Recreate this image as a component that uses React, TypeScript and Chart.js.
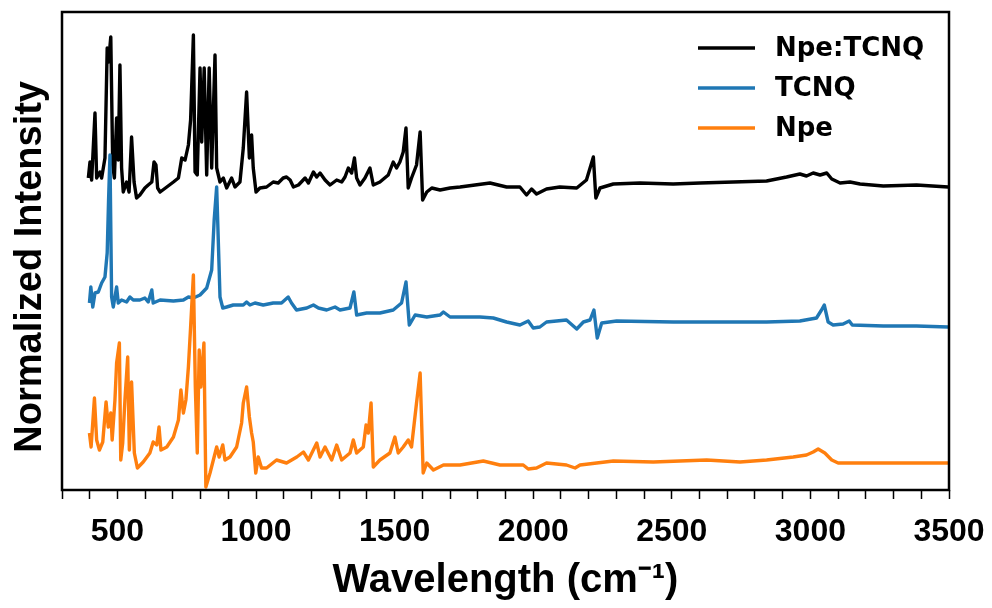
import { useEffect, useRef } from "react";
import { Chart, registerables } from "chart.js";

Chart.register(...registerables);

const seriesLabels = ["Npe:TCNQ", "TCNQ", "Npe"];
const seriesColors = ["#000000", "#1f77b4", "#ff7f0e"];

const npeTcnqWn = [395, 401, 407, 419, 425, 437, 443, 455, 463, 468, 476, 483, 489, 497, 503, 509, 515, 521, 533, 542, 551, 560, 569, 581, 599, 611, 624, 632, 639, 645, 654, 678, 702, 720, 732, 744, 756, 764, 774, 780, 788, 798, 804, 813, 822, 831, 840, 852, 858, 870, 882, 894, 912, 924, 942, 954, 966, 976, 984, 990, 1000, 1014, 1038, 1062, 1080, 1098, 1110, 1123, 1135, 1153, 1177, 1189, 1207, 1219, 1231, 1249, 1267, 1291, 1309, 1321, 1333, 1345, 1355, 1363, 1375, 1393, 1411, 1423, 1447, 1477, 1495, 1507, 1519, 1531, 1541, 1549, 1561, 1579, 1592, 1601, 1616, 1634, 1664, 1700, 1736, 1844, 1904, 1952, 1976, 1994, 2012, 2048, 2096, 2157, 2192, 2217, 2226, 2241, 2289, 2385, 2505, 2602, 2722, 2842, 2914, 2962, 2986, 3010, 3035, 3059, 3077, 3107, 3143, 3179, 3263, 3383, 3497];
const npeTcnqI = [3.12, 3.28, 3.10, 3.77, 3.12, 3.18, 3.12, 3.32, 4.42, 4.28, 4.53, 3.25, 3.12, 3.72, 3.30, 4.25, 3.22, 2.98, 3.08, 2.98, 3.53, 3.08, 2.92, 2.95, 3.02, 3.05, 3.08, 3.28, 3.25, 3.02, 2.98, 3.03, 3.08, 3.12, 3.32, 3.30, 3.45, 3.70, 4.55, 3.18, 3.15, 4.22, 3.48, 4.22, 3.15, 4.22, 3.22, 4.35, 3.22, 3.08, 3.12, 3.02, 3.12, 3.03, 3.08, 3.42, 3.98, 3.32, 3.55, 3.22, 2.98, 3.02, 3.03, 3.08, 3.07, 3.12, 3.13, 3.10, 3.03, 3.05, 3.12, 3.07, 3.18, 3.13, 3.17, 3.10, 3.05, 3.10, 3.08, 3.13, 3.22, 3.17, 3.32, 3.12, 3.05, 3.12, 3.22, 3.05, 3.08, 3.15, 3.28, 3.22, 3.28, 3.38, 3.62, 3.02, 3.12, 3.25, 3.58, 2.90, 2.98, 3.02, 3.00, 3.02, 3.03, 3.07, 3.03, 3.03, 2.95, 3.01, 2.96, 3.01, 3.03, 3.02, 3.10, 3.33, 2.92, 3.02, 3.06, 3.07, 3.06, 3.07, 3.08, 3.09, 3.13, 3.16, 3.14, 3.17, 3.15, 3.17, 3.11, 3.07, 3.08, 3.06, 3.04, 3.05, 3.03];

const tcnqWn = [399, 404, 411, 419, 431, 443, 455, 463, 468, 473, 479, 485, 497, 503, 515, 533, 545, 557, 581, 599, 611, 624, 629, 654, 702, 738, 756, 774, 798, 822, 840, 849, 858, 870, 880, 894, 918, 954, 966, 978, 996, 1026, 1062, 1092, 1116, 1128, 1146, 1183, 1207, 1225, 1255, 1285, 1303, 1339, 1353, 1363, 1399, 1447, 1495, 1525, 1541, 1553, 1574, 1616, 1664, 1676, 1700, 1808, 1856, 1904, 1952, 1982, 2000, 2024, 2048, 2120, 2157, 2181, 2205, 2219, 2231, 2247, 2301, 2505, 2722, 2842, 2962, 3022, 3040, 3050, 3064, 3082, 3118, 3140, 3151, 3263, 3383, 3497];
const tcnqI = [1.87, 2.03, 1.83, 1.97, 1.98, 2.07, 2.13, 2.37, 2.90, 3.35, 1.93, 1.83, 2.03, 1.87, 1.90, 1.88, 1.93, 1.90, 1.90, 1.92, 1.88, 2.00, 1.87, 1.90, 1.89, 1.90, 1.93, 1.92, 1.95, 2.02, 2.20, 2.70, 3.03, 1.93, 1.82, 1.83, 1.85, 1.85, 1.88, 1.85, 1.87, 1.85, 1.87, 1.87, 1.93, 1.87, 1.80, 1.82, 1.85, 1.82, 1.80, 1.83, 1.80, 1.82, 1.98, 1.75, 1.77, 1.77, 1.80, 1.87, 2.08, 1.65, 1.75, 1.73, 1.75, 1.78, 1.73, 1.73, 1.72, 1.68, 1.65, 1.69, 1.62, 1.63, 1.68, 1.70, 1.61, 1.68, 1.70, 1.80, 1.52, 1.67, 1.69, 1.68, 1.68, 1.68, 1.69, 1.72, 1.80, 1.85, 1.68, 1.65, 1.66, 1.69, 1.65, 1.64, 1.64, 1.63];

const npeWn = [399, 405, 417, 425, 435, 447, 459, 467, 476, 481, 491, 497, 507, 512, 519, 527, 537, 543, 551, 561, 572, 593, 617, 629, 642, 650, 657, 678, 702, 720, 729, 738, 747, 756, 764, 774, 781, 788, 795, 801, 812, 819, 834, 846, 858, 867, 880, 888, 906, 930, 948, 954, 966, 976, 984, 990, 999, 1008, 1020, 1038, 1074, 1110, 1147, 1171, 1189, 1219, 1231, 1249, 1273, 1291, 1309, 1339, 1351, 1363, 1387, 1397, 1405, 1415, 1423, 1447, 1483, 1501, 1513, 1531, 1549, 1561, 1579, 1592, 1603, 1616, 1640, 1676, 1736, 1820, 1880, 1964, 1982, 2012, 2048, 2120, 2151, 2169, 2289, 2433, 2626, 2746, 2842, 2938, 2986, 3010, 3028, 3052, 3077, 3100, 3179, 3323, 3497];
const npeI = [0.57, 0.43, 0.92, 0.50, 0.40, 0.48, 0.88, 0.63, 0.77, 0.50, 0.90, 1.27, 1.47, 0.30, 0.47, 0.90, 1.33, 0.40, 1.08, 0.37, 0.22, 0.28, 0.37, 0.48, 0.45, 0.63, 0.40, 0.43, 0.53, 0.70, 1.00, 0.77, 0.90, 1.23, 1.63, 2.15, 1.03, 0.37, 1.40, 1.03, 1.47, 0.03, 0.17, 0.30, 0.43, 0.33, 0.45, 0.30, 0.33, 0.43, 0.67, 0.87, 1.03, 0.73, 0.57, 0.48, 0.17, 0.33, 0.22, 0.22, 0.30, 0.27, 0.33, 0.38, 0.30, 0.47, 0.33, 0.43, 0.30, 0.45, 0.30, 0.37, 0.50, 0.37, 0.43, 0.65, 0.57, 0.87, 0.23, 0.30, 0.37, 0.53, 0.37, 0.43, 0.50, 0.43, 0.87, 1.17, 0.17, 0.27, 0.20, 0.25, 0.25, 0.29, 0.25, 0.25, 0.21, 0.22, 0.27, 0.25, 0.22, 0.25, 0.29, 0.28, 0.30, 0.28, 0.30, 0.33, 0.35, 0.38, 0.41, 0.37, 0.30, 0.27, 0.27, 0.27, 0.27];

const xTickLabels = [500, 1000, 1500, 2000, 2500, 3000, 3500];
const xTitle = "Wavelength (cm\u207B\u00B9)";
const yTitle = "Normalized Intensity\u00A0\u00A0\u00A0";

const toPoints = (wn: number[], vals: number[]) => wn.map((w, i) => ({ x: w, y: vals[i] }));

export default function App() {
  const ref = useRef<HTMLCanvasElement | null>(null);

  useEffect(() => {
    document.body.style.margin = "0";
    const canvas = ref.current;
    if (!canvas) return;

    const framePlugin = {
      id: "frame",
      afterDatasetsDraw(chart: any) {
        const { ctx, chartArea: a } = chart;
        ctx.save();
        ctx.strokeStyle = "#000";
        ctx.lineWidth = 2.5;
        ctx.strokeRect(a.left, a.top, a.right - a.left, a.bottom - a.top);
        ctx.restore();
      },
    };

    const legendPlugin = {
      id: "insideLegend",
      afterDraw(chart: any) {
        const { ctx, chartArea: a } = chart;
        ctx.save();
        chart.data.datasets.forEach((ds: any, i: number) => {
          const y = a.top + 36 + i * 40;
          ctx.strokeStyle = ds.borderColor;
          ctx.lineWidth = 3.5;
          ctx.beginPath();
          ctx.moveTo(a.right - 251, y);
          ctx.lineTo(a.right - 194, y);
          ctx.stroke();
          ctx.fillStyle = "#000";
          ctx.font = 'bold 26px "DejaVu Sans"';
          ctx.textBaseline = "middle";
          ctx.textAlign = "left";
          ctx.fillText(ds.label, a.right - 174, y + 1);
        });
        ctx.restore();
      },
    };

    const series = [
      toPoints(npeTcnqWn, npeTcnqI),
      toPoints(tcnqWn, tcnqI),
      toPoints(npeWn, npeI),
    ];

    const chart = new Chart(canvas, {
      type: "line",
      data: {
        datasets: series.map((pts, i) => ({
          label: seriesLabels[i],
          data: pts,
          borderColor: seriesColors[i],
          backgroundColor: seriesColors[i],
          borderWidth: 3.4,
          pointRadius: 0,
          tension: 0,
          fill: false,
          borderJoinStyle: "round",
          order: 3 - i,
        })),
      },
      options: {
        animation: false,
        responsive: true,
        maintainAspectRatio: false,
        layout: { padding: { top: 12, right: 43, left: 0, bottom: 0 } },
        plugins: {
          legend: { display: false },
          tooltip: { enabled: false },
        },
        scales: {
          x: {
            type: "linear",
            min: 300,
            max: 3500,
            ticks: {
              stepSize: 100,
              autoSkip: false,
              maxRotation: 0,
              color: "#000",
              padding: 14,
              font: { family: '"Liberation Sans", Arial', weight: "bold", size: 32 },
              callback: (v: any) => (xTickLabels.includes(Number(v)) ? String(v) : ""),
            },
            grid: {
              display: true,
              drawOnChartArea: false,
              drawTicks: true,
              tickLength: 9,
              tickWidth: 1.5,
              tickColor: "#000",
            },
            border: { display: false },
            title: {
              display: true,
              text: xTitle,
              color: "#000",
              font: { family: '"Liberation Sans", Arial', weight: "bold", size: 40 },
              padding: { top: 0, bottom: 3 },
            },
            afterFit: (s: any) => {
              s.height = 118;
              s.paddingRight = 0;
              s.paddingLeft = 0;
            },
          },
          y: {
            min: 0,
            max: 4.78,
            ticks: { display: false },
            grid: { display: false },
            border: { display: false },
            title: {
              display: true,
              text: yTitle,
              color: "#000",
              font: { family: '"Liberation Sans", Arial', weight: "bold", size: 38 },
              padding: { top: 8, bottom: 0 },
            },
            afterFit: (s: any) => {
              s.width = 62;
              s.paddingTop = 0;
              s.paddingBottom = 0;
            },
          },
        },
      },
      plugins: [framePlugin, legendPlugin],
    });

    return () => chart.destroy();
  }, []);

  return (
    <div style={{ width: 992, height: 608, position: "relative" }}>
      <canvas ref={ref} />
    </div>
  );
}
